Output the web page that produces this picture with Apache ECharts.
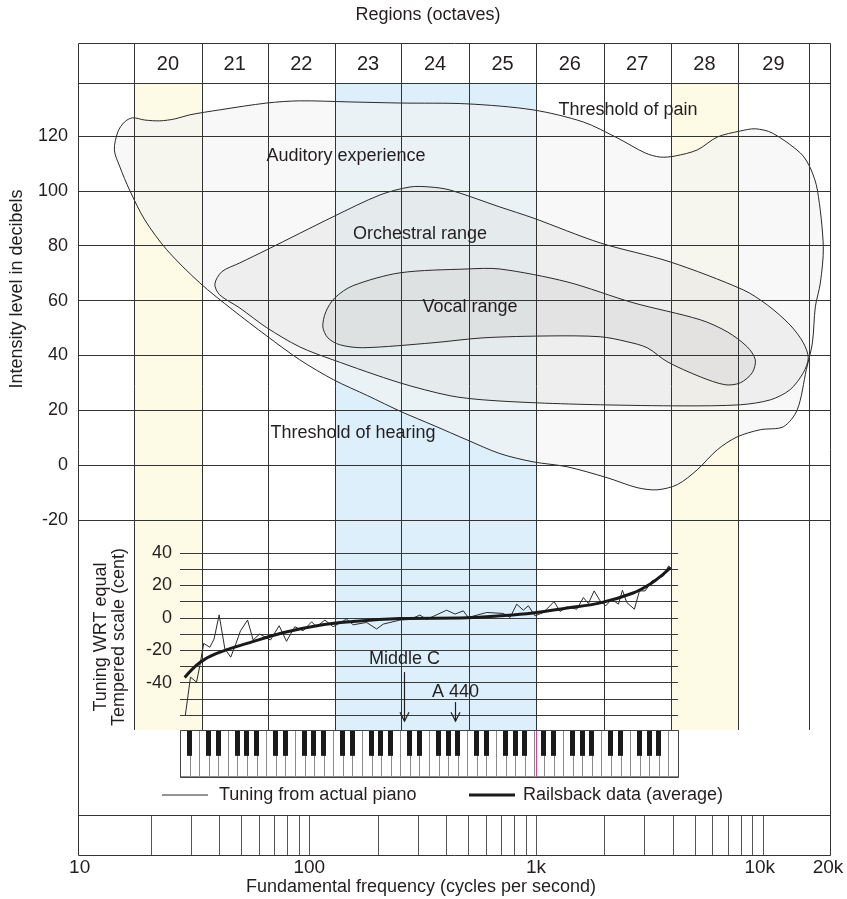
<!DOCTYPE html>
<html>
<head>
<meta charset="utf-8">
<title>Regions (octaves)</title>
<script src="https://cdn.jsdelivr.net/npm/echarts@6.0.0/dist/echarts.min.js"></script>
<style>
html,body{margin:0;padding:0;background:#ffffff;}
#chart{width:847px;height:899px;}
</style>
</head>
<body>
<div id="chart"></div>
<script>
// ---------------- data ----------------
const octaveLabels = ['20','21','22','23','24','25','26','27','28','29'];
const octaveEdges  = [16.9, 33.5, 65.5, 129.7, 254, 506, 1000, 1986, 3931, 7775, 15990];
const octaveShade  = ['yellow','','','blue','blue','blue','','','yellow',''];

const dbTicks = [-20, 0, 20, 40, 60, 80, 100, 120];

const auditoryFreq = [13.8,14.3,15.3,16.6,18.8,21.9,25.5,29.7,40.2,64.9,90.7,151,251,496,970,1614,2281,3030,3530,4110,5140,6300,7960,9270,11000,14650,16220,17420,18500,17950,17060,16560,15570,14200,12330,9750,7710,6300,5140,4200,3420,2790,2060,1370,970,693,496,355,254,181,128,90.7,64.9,45.9,32.9,23.5,18.8,16.1,14.6];
const auditoryDb   = [114.9,121.5,125.1,126.6,125.8,125.5,126.2,127.7,129.5,132.0,132.8,132.4,132.0,131.7,129.5,125.1,119.3,113.8,112.3,112.7,114.9,119.6,121.8,122.6,121.1,113.8,108.3,100.3,79.6,66.4,57.7,44.6,34.8,20.2,14.0,12.9,10.3,5.6,-1.7,-7.1,-9.0,-8.2,-4.6,-0.6,1.2,4.2,9.2,14.4,19.5,25.3,31.1,38.4,47.1,56.6,66.4,78.5,89.4,100.3,108.7];

const orchestralFreq = [38.3,41.1,49.3,64.9,127,205,278,340,417,693,970,1920,3900,8200,10470,13200,15100,15880,15100,13200,10800,7960,4460,1920,1010,584,417,251,127,90.7,64.9,49.3,40.2];
const orchestralDb   = [66.0,70.5,73.7,78.5,90.5,98.5,101.4,101.4,100.3,94.1,90.1,81.0,74.1,63.9,58.4,51.1,44.6,39.1,33.7,27.5,23.8,22.0,21.6,22.0,22.7,23.8,25.3,30.0,38.4,43.1,50.1,57.3,62.1];

const vocalFreq = [114.7,118.2,129.6,155.6,251,496,693,1370,2680,5300,6970,8550,9270,8990,7960,6830,5300,3790,3090,2520,1920,1150,584,351,172,136,120.7];
const vocalDb   = [50.4,55.9,61.0,65.4,70.1,71.5,71.5,66.8,59.2,53.0,48.6,43.1,38.4,33.7,30.0,29.3,32.2,37.7,42.8,45.0,46.8,47.1,46.4,44.6,42.8,43.9,46.4];

const pianoFreq  = [28.4,29.9,31.8,32.9,34.2,36.4,38.0,40.0,42.4,45.0,47.4,49.7,53.4,56.5,60.4,67.4,73.6,79.3,86.3,93.9,102.3,107.6,117.1,127.4,146,156.1,178.9,198.1,211.8,226.7,251,277.8,307.5,329.2,403.5,439.1,477.5,502.5,606,717,767.8,821.8,878.9,924.7,990,1077,1201,1276,1366,1512,1618,1702,1804,1917,2031,2159,2309,2405,2514,2716,2858,3029,3242,3648,3838,3933];
const pianoCents = [-60,-36.6,-39.7,-29.4,-15.8,-18.2,-13.1,1.8,-19.2,-24.3,-16.1,-8,-1.4,-13.7,-10,-13.7,-4.9,-14.5,-5.5,-8,-2.5,-5.5,-1.4,-5.5,-0.8,-4.3,-2.9,-6.9,-3.9,-2.9,-1.4,-1,1.7,-1,4.7,2.3,4.3,0.2,3.3,2.7,0.2,8.4,4.7,7.4,1.2,3.3,10,3.9,6.7,5.3,12.5,8.8,16.6,10.4,7.4,11.5,8.4,17,9.4,5.3,16.6,16.6,22.7,25.8,31.9,30.9];

const railsFreq  = [28.2,32.9,39,54.6,76.4,108,151,251,496,693,970,1370,1920,2680,3190,3640,3910];
const railsCents = [-36.8,-27.6,-22,-15.3,-9.2,-4.9,-2.5,-0.5,0,1.2,3,6,9.2,15.3,20.9,27,31];

const annoNames = ['Middle C', 'A 440'];
const annoFreqs = [261.6, 440];

const freqTicks = [20,30,40,50,60,70,80,90,100,200,300,400,500,600,700,800,900,1000,2000,3000,4000,5000,6000,7000,8000,9000,10000];
const freqLabelValues = [10, 100, 1000, 10000, 20000];
const freqLabels = ['10', '100', '1k', '10k', '20k'];

const whiteKeyCount = 52;           // A0 .. C8
const whiteNoteCycle = 'ABCDEFG';

// ---------------- layout ----------------
const FONT = '"Liberation Sans", Arial, Helvetica, sans-serif';
const TXT = '#231f20';
const LINE = '#333333';
const CW = 847, CH = 899;
const frameL = 78, frameR = 830, frameT = 43, headerB = 83, mainB = 520;
const tuneL = 180, tuneR = 678, tuneT = 553, tuneB = 715;
const keysT = 730, keysB = 777, freqT = 815, freqB = 855;
const FMIN = 9.54, FMAX = 19800;
const logSpan = Math.log10(FMAX / FMIN);
function freqAtPx(x) { return FMIN * Math.pow(10, (x - frameL) / (frameR - frameL) * logSpan); }
function box(l, r, t, b) { return {left: l, right: CW - r, top: t, bottom: CH - b, containLabel: false, outerBoundsMode: 'none'}; }

const whiteKeys = [];
for (let i = 0; i < whiteKeyCount; i++) whiteKeys.push(i);
const blackKeys = [];
for (let i = 0; i < whiteKeyCount - 1; i++) {
  if ('ACDFG'.indexOf(whiteNoteCycle[i % 7]) >= 0) blackKeys.push(i + 1);
}

function txt(text, x, y, size, extra) {
  return Object.assign({
    type: 'text', x: x, y: y, silent: true, z: 100,
    style: {text: text, fontSize: size, fontFamily: FONT, fill: TXT,
      align: 'center', verticalAlign: 'middle', textAlign: 'center', textVerticalAlign: 'middle'}
  }, extra || {});
}

function contour(name, freqs, dbs, fill) {
  return {
    type: 'custom', name: name, xAxisIndex: 1, yAxisIndex: 1, z: 2, silent: true,
    data: [[freqs[0], dbs[0]]],
    renderItem: function (params, api) {
      const pts = freqs.map(function (f, i) { return api.coord([f, dbs[i]]); });
      return {type: 'polygon', shape: {points: pts, smooth: 0.3},
        style: {fill: fill, stroke: '#2a2a2a', lineWidth: 1}};
    }
  };
}

const chart = echarts.init(document.getElementById('chart'), null, {renderer: 'canvas'});

const option = {
  animation: false,
  backgroundColor: '#ffffff',
  grid: [
    box(frameL, frameR, frameT, keysT),   // 0 background columns
    box(frameL, frameR, headerB, mainB),  // 1 intensity
    box(tuneL, tuneR, tuneT, tuneB),      // 2 tuning
    box(tuneL, tuneR, keysT, keysB),      // 3 keyboard
    box(frameL, frameR, freqT, freqB)     // 4 frequency ticks
  ],
  xAxis: [
    {type: 'log', logBase: 10, gridIndex: 0, min: FMIN, max: FMAX, show: false},
    {type: 'log', logBase: 10, gridIndex: 1, min: FMIN, max: FMAX, show: false},
    {type: 'log', logBase: 10, gridIndex: 2, min: freqAtPx(tuneL), max: freqAtPx(tuneR), show: false},
    {type: 'value', gridIndex: 3, min: 0, max: whiteKeyCount, show: false},
    {type: 'log', logBase: 10, gridIndex: 4, min: FMIN, max: FMAX, show: false}
  ],
  yAxis: [
    {type: 'value', gridIndex: 0, min: 0, max: 1, show: false},
    {type: 'value', gridIndex: 1, min: -20, max: 139.3, interval: 20, z: 3,
      axisLine: {show: false}, axisTick: {show: false},
      axisLabel: {fontSize: 18, fontFamily: FONT, color: TXT, margin: 10, showMaxLabel: true,
        formatter: function (v) { return dbTicks.indexOf(Math.round(v)) >= 0 && Math.abs(v - Math.round(v)) < 1e-6 ? String(Math.round(v)) : ''; }},
      splitLine: {show: true, lineStyle: {color: LINE, width: 1}}},
    {type: 'value', gridIndex: 2, min: -60, max: 40, interval: 10, z: 3,
      axisLine: {show: false}, axisTick: {show: false},
      axisLabel: {fontSize: 18, fontFamily: FONT, color: TXT, margin: 8,
        formatter: function (v) { return (v % 20 === 0 && v > -60) ? String(v) : ''; }},
      splitLine: {show: true, lineStyle: {color: '#3a3a3a', width: 1}}},
    {type: 'value', gridIndex: 3, min: 0, max: 1, show: false},
    {type: 'value', gridIndex: 4, min: 0, max: 1, show: false}
  ],
  legend: [
    {data: ['Tuning from actual piano'], left: 162, top: 786, padding: 0, itemWidth: 46, itemHeight: 1, icon: 'rect',
      selectedMode: false, textStyle: {fontSize: 18, fontFamily: FONT, color: TXT, padding: [0, 0, 0, 6]}},
    {data: ['Railsback data (average)'], left: 469, top: 786, padding: 0, itemWidth: 46, itemHeight: 3, icon: 'rect',
      selectedMode: false, textStyle: {fontSize: 18, fontFamily: FONT, color: TXT, padding: [0, 0, 0, 3]}}
  ],
  series: [
    // column shading
    {type: 'custom', xAxisIndex: 0, yAxisIndex: 0, z: 1, silent: true,
      data: octaveShade.map(function (s, i) { return [octaveEdges[i], 0.5, i]; }),
      renderItem: function (params, api) {
        const i = api.value(2);
        const s = octaveShade[i];
        if (!s) return null;
        const cs = params.coordSys;
        const x0 = api.coord([octaveEdges[i], 0])[0];
        const x1 = api.coord([octaveEdges[i + 1], 0])[0];
        const top = cs.y + (headerB - frameT);
        return {type: 'rect', shape: {x: x0, y: top, width: x1 - x0, height: cs.y + cs.height - top},
          style: {fill: s === 'blue' ? '#ddeffb' : '#fdfbe5'}};
      }},
    contour('Auditory experience', auditoryFreq, auditoryDb, 'rgba(244,244,244,0.6)'),
    contour('Orchestral range', orchestralFreq, orchestralDb, 'rgba(222,222,222,0.36)'),
    contour('Vocal range', vocalFreq, vocalDb, 'rgba(212,212,212,0.42)'),
    // column lines
    {type: 'custom', xAxisIndex: 0, yAxisIndex: 0, z: 4, silent: true,
      data: octaveEdges.map(function (f) { return [f, 0.5]; }),
      renderItem: function (params, api) {
        const cs = params.coordSys;
        const x = Math.round(api.coord([api.value(0), 0.5])[0]) + 0.5;
        return {type: 'line', shape: {x1: x, y1: cs.y, x2: x, y2: cs.y + cs.height},
          style: {stroke: LINE, lineWidth: 1}};
      }},
    // octave labels
    {type: 'custom', xAxisIndex: 0, yAxisIndex: 0, z: 4, silent: true,
      data: octaveLabels.map(function (l, i) { return [Math.sqrt(octaveEdges[i] * octaveEdges[i + 1]), 0.5, i]; }),
      renderItem: function (params, api) {
        const cs = params.coordSys;
        const x = api.coord([api.value(0), 0.5])[0];
        return {type: 'text', style: {text: octaveLabels[api.value(2)], x: x, y: cs.y + (headerB - frameT) / 2 + 1,
          fontSize: 20, fontFamily: FONT, fill: TXT,
          align: 'center', verticalAlign: 'middle', textAlign: 'center', textVerticalAlign: 'middle'}};
      }},
    // 1k line across the keyboard
    {type: 'custom', xAxisIndex: 0, yAxisIndex: 0, z: 6, silent: true, clip: false,
      data: [[1000, 0.5]],
      renderItem: function (params, api) {
        const cs = params.coordSys;
        const x = Math.round(api.coord([api.value(0), 0.5])[0]) + 0.5;
        const y0 = cs.y + cs.height;
        return {type: 'line', shape: {x1: x, y1: y0, x2: x, y2: y0 + (keysB - keysT)},
          style: {stroke: '#d9409a', lineWidth: 1}};
      }},
    // tuning lines
    {type: 'line', name: 'Tuning from actual piano', xAxisIndex: 2, yAxisIndex: 2, z: 5,
      data: pianoFreq.map(function (f, i) { return [f, pianoCents[i]]; }),
      symbol: 'none', showSymbol: false, lineStyle: {color: '#2a2a2a', width: 1}, itemStyle: {color: '#2a2a2a'}},
    {type: 'line', name: 'Railsback data (average)', xAxisIndex: 2, yAxisIndex: 2, z: 6, smooth: 0.4,
      data: railsFreq.map(function (f, i) { return [f, railsCents[i]]; }),
      symbol: 'none', showSymbol: false, lineStyle: {color: '#1a1a1a', width: 3}, itemStyle: {color: '#1a1a1a'}},
    // Middle C / A 440 annotations
    {type: 'custom', xAxisIndex: 2, yAxisIndex: 2, z: 6, silent: true, clip: false,
      data: annoFreqs.map(function (f, i) { return [f, 0, i]; }),
      renderItem: function (params, api) {
        const i = api.value(2);
        const f = api.value(0);
        const textC = [-25.5, -45.6][i];
        const topC = [-33.5, -52][i];
        const botC = -63.8;
        const x = Math.round(api.coord([f, 0])[0]) + 0.5;
        const yt = api.coord([f, textC])[1];
        const y0 = api.coord([f, topC])[1];
        const y1 = api.coord([f, botC])[1];
        return {type: 'group', children: [
          {type: 'text', style: {text: annoNames[i], x: x, y: yt, fontSize: 18, fontFamily: FONT, fill: TXT,
            align: 'center', verticalAlign: 'middle', textAlign: 'center', textVerticalAlign: 'middle'}},
          {type: 'line', shape: {x1: x, y1: y0, x2: x, y2: y1}, style: {stroke: '#222', lineWidth: 1.2}},
          {type: 'polyline', shape: {points: [[x - 4.5, y1 - 9], [x, y1], [x + 4.5, y1 - 9]]},
            style: {stroke: '#222', lineWidth: 1.2, fill: null}}
        ]};
      }},
    // keyboard: white keys
    {type: 'custom', xAxisIndex: 3, yAxisIndex: 3, z: 5, silent: true,
      data: whiteKeys.map(function (k) { return [k + 0.5, 0.5, k]; }),
      renderItem: function (params, api) {
        const k = api.value(2);
        const p0 = api.coord([k, 1]);
        const p1 = api.coord([k + 1, 0]);
        return {type: 'rect', shape: {x: Math.round(p0[0]) + 0.5, y: p0[1] + 0.5, width: Math.round(p1[0]) - Math.round(p0[0]), height: p1[1] - p0[1] - 1},
          style: {fill: '#ffffff', stroke: '#8a8a8a', lineWidth: 1}};
      }},
    // keyboard: black keys
    {type: 'custom', xAxisIndex: 3, yAxisIndex: 3, z: 6, silent: true,
      data: blackKeys.map(function (b) { return [b, 0.5]; }),
      renderItem: function (params, api) {
        const b = api.value(0);
        const c = api.coord([b, 1]);
        const w = (api.coord([1, 0])[0] - api.coord([0, 0])[0]) * 0.55;
        const h = (api.coord([0, 0])[1] - api.coord([0, 1])[1]) * 0.55;
        return {type: 'rect', shape: {x: Math.round(c[0] - w / 2), y: c[1], width: Math.round(w), height: h},
          style: {fill: '#1a1a1a'}};
      }},
    // frequency ticks
    {type: 'custom', xAxisIndex: 4, yAxisIndex: 4, z: 4, silent: true,
      data: freqTicks.map(function (f) { return [f, 0.5]; }),
      renderItem: function (params, api) {
        const cs = params.coordSys;
        const x = Math.round(api.coord([api.value(0), 0.5])[0]) + 0.5;
        return {type: 'line', shape: {x1: x, y1: cs.y, x2: x, y2: cs.y + cs.height},
          style: {stroke: '#555', lineWidth: 1}};
      }},
    // frequency labels
    {type: 'custom', xAxisIndex: 4, yAxisIndex: 4, z: 4, silent: true, clip: false,
      data: freqLabelValues.map(function (f, i) { return [f, 0.5, i]; }),
      renderItem: function (params, api) {
        const cs = params.coordSys;
        const i = api.value(2);
        const dx = [-3, 0, 0, -3, -3][i];
        const x = api.coord([api.value(0), 0.5])[0] + dx;
        return {type: 'text', style: {text: freqLabels[i], x: x, y: cs.y + cs.height + 13,
          fontSize: 19, fontFamily: FONT, fill: TXT,
          align: 'center', verticalAlign: 'middle', textAlign: 'center', textVerticalAlign: 'middle'}};
      }}
  ],
  graphic: [
    {type: 'rect', silent: true, z: 10, shape: {x: frameL + 0.5, y: frameT + 0.5, width: frameR - frameL, height: freqB - frameT},
      style: {fill: null, stroke: LINE, lineWidth: 1}},
    {type: 'line', silent: true, z: 10, shape: {x1: frameL, y1: headerB + 0.5, x2: frameR, y2: headerB + 0.5}, style: {stroke: LINE, lineWidth: 1}},
    {type: 'line', silent: true, z: 10, shape: {x1: frameL, y1: freqT + 0.5, x2: frameR, y2: freqT + 0.5}, style: {stroke: LINE, lineWidth: 1}},
    {type: 'rect', silent: true, z: 10, shape: {x: tuneL + 0.5, y: keysT + 0.5, width: tuneR - tuneL, height: keysB - keysT},
      style: {fill: null, stroke: '#444', lineWidth: 1}},
    txt('Regions (octaves)', 428, 15, 18),
    txt('Intensity level in decibels', 17, 289, 18, {rotation: Math.PI / 2}),
    txt('Tuning WRT equal', 101, 637, 18, {rotation: Math.PI / 2}),
    txt('Tempered scale (cent)', 119, 637, 18, {rotation: Math.PI / 2}),
    txt('Auditory experience', 346, 156, 18),
    txt('Orchestral range', 420, 234, 18),
    txt('Vocal range', 470, 307, 18),
    txt('Threshold of pain', 628, 110, 18),
    txt('Threshold of hearing', 353, 433, 18),
    txt('Fundamental frequency (cycles per second)', 421, 887, 18)
  ]
};

chart.setOption(option);
</script>
</body>
</html>
